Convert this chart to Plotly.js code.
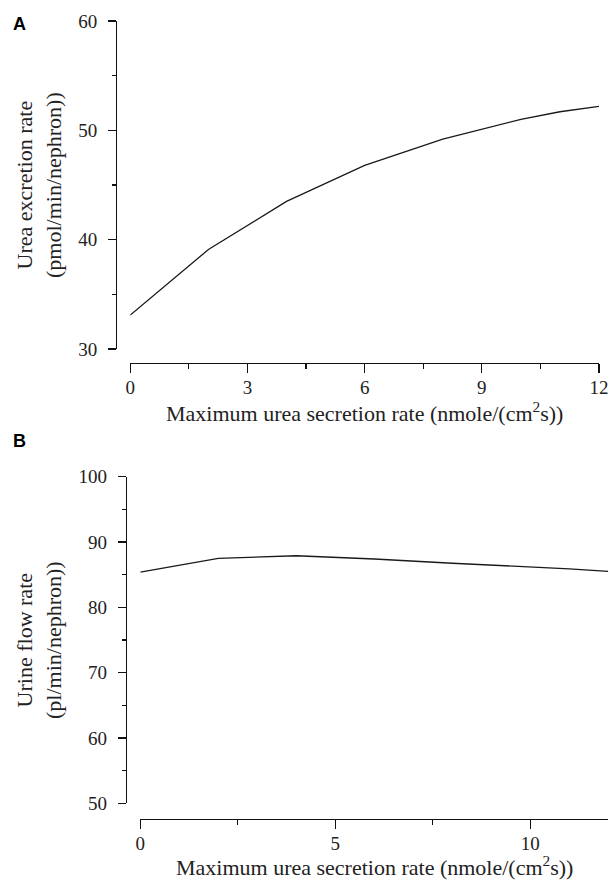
<!DOCTYPE html>
<html>
<head>
<meta charset="utf-8">
<script src="https://cdn.plot.ly/plotly-3.0.1.min.js"></script>
<style>html,body{margin:0;padding:0;background:#fff;}#chart{width:611px;height:884px;}</style>
</head>
<body>
<div id="chart"></div>
<script>
// Panel A: urea excretion rate vs maximum urea secretion rate
const secretionA = [0, 2, 4, 6, 8, 10, 11, 12];
const ureaExcretion = [33.1, 39.1, 43.5, 46.8, 49.2, 51.0, 51.7, 52.2];
// Panel B: urine flow rate vs maximum urea secretion rate
const secretionB = [0, 2, 4, 6, 8, 10, 11, 12];
const urineFlow = [85.4, 87.5, 87.9, 87.4, 86.75, 86.2, 85.9, 85.5];

const xTitle = 'Maximum urea secretion rate (nmole/(cm<sup>2</sup>s))';
const yTitleA = 'Urea excretion rate<br>(pmol/min/nephron))';
const yTitleB = 'Urine flow rate<br>(pl/min/nephron))';

const W = 611, H = 884;
const fx = p => p / W;
const fy = p => (H - p) / H;

const serif = 'Liberation Serif, Times New Roman, serif';
const txtColor = '#222';
const lineStyle = {color: '#1a1a1a', width: 1.3};

function xAxis(dom, pos, dtick, minorDtick) {
  return {
    domain: [fx(dom[0]), fx(dom[1])], range: [0, 12], anchor: 'free', position: fy(pos),
    tick0: 0, dtick: dtick, ticks: 'outside', ticklen: 9, tickwidth: 1.2, tickcolor: '#111',
    showline: true, linecolor: '#111', linewidth: 1.2, showgrid: false, zeroline: false,
    minor: {dtick: minorDtick, tick0: 0, ticks: 'outside', ticklen: 5, tickwidth: 1.2, tickcolor: '#111', showgrid: false},
    tickfont: {family: serif, size: 19, color: txtColor}, ticklabelstandoff: -2, fixedrange: true
  };
}
function yAxis(dom, pos, range) {
  return {
    domain: [fy(dom[1]), fy(dom[0])], range: range, anchor: 'free', position: fx(pos),
    tick0: 0, dtick: 10, ticks: 'outside', ticklen: 8, tickwidth: 1.2, tickcolor: '#111',
    showline: true, linecolor: '#111', linewidth: 1.2, showgrid: false, zeroline: false,
    minor: {dtick: 5, ticks: 'outside', ticklen: 4, tickwidth: 1.2, tickcolor: '#111', showgrid: false},
    tickfont: {family: serif, size: 19, color: txtColor}, ticklabelstandoff: 7, fixedrange: true
  };
}

const data = [
  {x: secretionA, y: ureaExcretion, type: 'scatter', mode: 'lines', line: lineStyle, xaxis: 'x', yaxis: 'y', hoverinfo: 'skip'},
  {x: secretionB, y: urineFlow, type: 'scatter', mode: 'lines', line: lineStyle, xaxis: 'x2', yaxis: 'y2', hoverinfo: 'skip'}
];

const titleFont = {family: serif, size: 22, color: txtColor};
const labelFont = {family: 'Liberation Sans, Arial, sans-serif', size: 18, color: '#000', weight: 'bold'};

const layout = {
  width: W, height: H, margin: {l: 0, r: 0, t: 0, b: 0},
  paper_bgcolor: '#fff', plot_bgcolor: '#fff', showlegend: false,
  xaxis: xAxis([130.3, 599], 363, 3, 1.5),
  yaxis: yAxis([21, 349], 116, [30, 60]),
  xaxis2: xAxis([140.3, 608.3], 819, 5, 2.5),
  yaxis2: yAxis([476.7, 803.3], 125.7, [50, 100]),
  annotations: [
    {text: '<b>A</b>', x: fx(19.5), y: fy(23.5), xref: 'paper', yref: 'paper', xanchor: 'center', yanchor: 'middle', showarrow: false, font: labelFont},
    {text: '<b>B</b>', x: fx(19.5), y: fy(441), xref: 'paper', yref: 'paper', xanchor: 'center', yanchor: 'middle', showarrow: false, font: labelFont},
    {text: yTitleA, textangle: -90, x: fx(39), y: fy(185), xref: 'paper', yref: 'paper', xanchor: 'center', yanchor: 'middle', showarrow: false, font: titleFont},
    {text: yTitleB, textangle: -90, x: fx(39), y: fy(640), xref: 'paper', yref: 'paper', xanchor: 'center', yanchor: 'middle', showarrow: false, font: titleFont},
    {text: xTitle, x: fx(364.6), y: fy(412), xref: 'paper', yref: 'paper', xanchor: 'center', yanchor: 'middle', showarrow: false, font: titleFont},
    {text: xTitle, x: fx(374.3), y: fy(866), xref: 'paper', yref: 'paper', xanchor: 'center', yanchor: 'middle', showarrow: false, font: titleFont}
  ]
};

Plotly.newPlot('chart', data, layout, {displayModeBar: false, staticPlot: true});
</script>
</body>
</html>
